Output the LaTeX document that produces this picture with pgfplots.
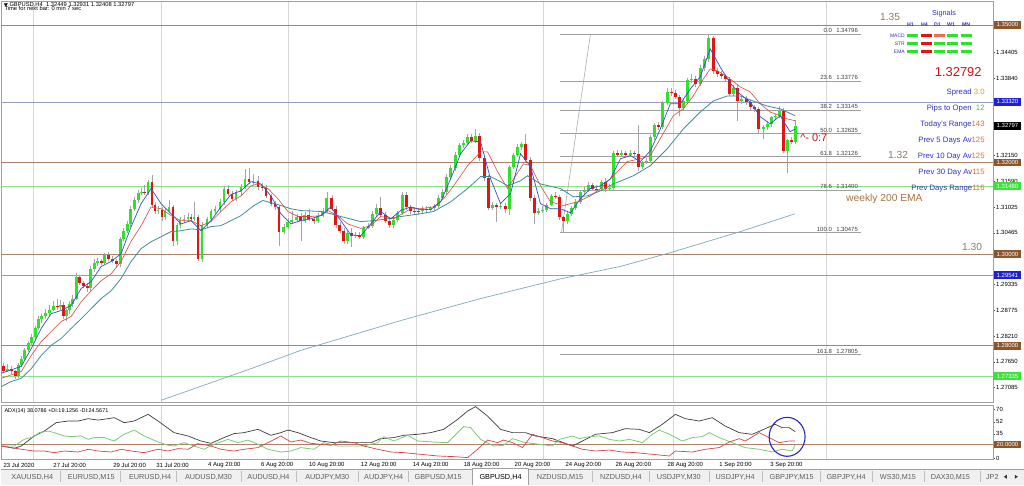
\documentclass[border=0pt]{standalone}
\usepackage{fontspec}
\setmainfont{Liberation Sans}
\usepackage{pgfplots}
\usepackage{pgfplotstable}
\pgfplotsset{compat=1.18}
\newcommand\fs[1]{\fontsize{#1}{#1}\selectfont}
\definecolor{bull}{RGB}{45,225,45}
\definecolor{bear}{RGB}{228,20,20}
\definecolor{wickc}{RGB}{165,165,165}
\definecolor{emablue}{RGB}{50,80,200}
\definecolor{emared}{RGB}{215,75,65}
\definecolor{emateal}{RGB}{60,140,160}
\definecolor{wemac}{RGB}{125,170,190}
\definecolor{roundc}{RGB}{170,130,105}
\definecolor{roundbox}{RGB}{140,85,45}
\definecolor{levelc}{RGB}{150,155,190}
\definecolor{greenl}{RGB}{140,225,140}
\definecolor{fibc}{RGB}{160,160,160}
\definecolor{gridc}{RGB}{215,215,215}
\definecolor{lblue}{RGB}{50,50,190}
\definecolor{onum}{RGB}{235,105,50}
\definecolor{spreadc}{RGB}{230,160,40}
\definecolor{gnum}{RGB}{60,200,60}
\definecolor{roundtxt}{RGB}{145,122,92}
\definecolor{wematxt}{RGB}{165,115,65}
\definecolor{boxblue}{RGB}{30,30,220}
\definecolor{boxgreen}{RGB}{60,225,60}
\definecolor{adxk}{RGB}{60,60,60}
\definecolor{adxg}{RGB}{120,205,120}
\definecolor{adxr}{RGB}{210,70,70}
\definecolor{sigsalmon}{RGB}{240,110,80}
\definecolor{tabbg}{RGB}{240,240,240}
\definecolor{tabtxt}{RGB}{95,95,95}
\definecolor{framec}{RGB}{160,160,160}
\definecolor{ellc}{RGB}{40,40,200}

\pgfplotstableread{
x o h l c
2 1.2755 1.2762 1.2740 1.2746
6 1.2746 1.2760 1.2742 1.2750
10 1.2750 1.2756 1.2738 1.2744
14 1.2744 1.2748 1.2728 1.2733
17 1.2733 1.2762 1.2730 1.2757
20 1.2757 1.2778 1.2754 1.2772
23 1.2772 1.2795 1.2768 1.2790
27 1.2790 1.2810 1.2786 1.2805
30 1.2805 1.2826 1.2800 1.2820
34 1.2820 1.2843 1.2815 1.2838
37 1.2838 1.2866 1.2835 1.2859
40 1.2859 1.2870 1.2850 1.2864
44 1.2864 1.2880 1.2858 1.2872
48 1.2872 1.2890 1.2866 1.2879
52 1.2879 1.2897 1.2875 1.2886
56 1.2886 1.2902 1.2878 1.2884
59 1.2884 1.2900 1.2878 1.2890
62 1.2890 1.2895 1.2858 1.2866
65 1.2866 1.2880 1.2855 1.2877
68 1.2877 1.2898 1.2870 1.2892
71 1.2892 1.2910 1.2885 1.2903
75 1.2903 1.2958 1.2900 1.2951
78 1.2951 1.2955 1.2932 1.2938
82 1.2938 1.2942 1.2925 1.2931
86 1.2931 1.2936 1.2918 1.2925
89 1.2925 1.2975 1.2920 1.2968
93 1.2968 1.2990 1.2962 1.2981
96 1.2981 1.2992 1.2975 1.2984
100 1.2984 1.2990 1.2976 1.2981
103 1.2981 1.3002 1.2978 1.2997
107 1.2997 1.3005 1.2985 1.2990
111 1.2990 1.2996 1.2980 1.2986
115 1.2986 1.2990 1.2970 1.2979
119 1.2979 1.3038 1.2972 1.3034
122 1.3034 1.3056 1.3028 1.3051
126 1.3051 1.3072 1.3046 1.3066
129 1.3066 1.3104 1.3060 1.3099
133 1.3099 1.3125 1.3094 1.3119
137 1.3119 1.3140 1.3112 1.3134
140 1.3134 1.3145 1.3128 1.3136
143 1.3136 1.3150 1.3130 1.3134
147 1.3134 1.3162 1.3128 1.3158
151 1.3158 1.3172 1.3100 1.3108
154 1.3108 1.3114 1.3088 1.3095
157 1.3095 1.3105 1.3088 1.3097
161 1.3097 1.3102 1.3072 1.3080
164 1.3080 1.3100 1.3075 1.3095
168 1.3095 1.3117 1.3090 1.3103
172 1.3103 1.3108 1.3018 1.3029
176 1.3029 1.3068 1.3020 1.3064
179 1.3064 1.3080 1.3058 1.3075
183 1.3075 1.3085 1.3068 1.3077
187 1.3077 1.3090 1.3070 1.3082
190 1.3082 1.3088 1.3070 1.3077
193 1.3077 1.3114 1.3072 1.3082
197 1.3082 1.3086 1.2986 1.2990
201 1.2990 1.3070 1.2983 1.3064
206 1.3064 1.3082 1.3058 1.3077
210 1.3077 1.3098 1.3070 1.3093
214 1.3093 1.3106 1.3088 1.3099
219 1.3099 1.3120 1.3092 1.3114
223 1.3114 1.3148 1.3108 1.3143
227 1.3143 1.3150 1.3126 1.3132
231 1.3132 1.3138 1.3115 1.3121
235 1.3121 1.3140 1.3115 1.3136
240 1.3136 1.3152 1.3130 1.3147
244 1.3147 1.3185 1.3142 1.3164
248 1.3164 1.3188 1.3152 1.3158
252 1.3158 1.3175 1.3150 1.3160
257 1.3160 1.3170 1.3140 1.3147
261 1.3147 1.3155 1.3138 1.3145
265 1.3145 1.3150 1.3122 1.3127
270 1.3127 1.3132 1.3105 1.3110
274 1.3110 1.3115 1.3096 1.3103
278 1.3103 1.3108 1.3017 1.3049
283 1.3049 1.3065 1.3044 1.3060
287 1.3060 1.3078 1.3055 1.3071
291 1.3071 1.3093 1.3066 1.3075
296 1.3075 1.3088 1.3070 1.3082
300 1.3082 1.3090 1.3028 1.3073
304 1.3073 1.3092 1.3068 1.3086
308 1.3086 1.3098 1.3072 1.3077
313 1.3077 1.3082 1.3066 1.3073
317 1.3073 1.3090 1.3068 1.3084
322 1.3084 1.3100 1.3080 1.3095
326 1.3095 1.3136 1.3090 1.3123
331 1.3123 1.3130 1.3093 1.3099
335 1.3099 1.3104 1.3058 1.3064
339 1.3064 1.3070 1.3045 1.3051
343 1.3051 1.3056 1.3023 1.3029
347 1.3029 1.3052 1.3022 1.3047
351 1.3047 1.3058 1.3015 1.3040
355 1.3040 1.3048 1.3036 1.3042
359 1.3042 1.3048 1.3032 1.3038
363 1.3038 1.3062 1.3032 1.3058
368 1.3058 1.3068 1.3054 1.3062
372 1.3062 1.3094 1.3058 1.3088
376 1.3088 1.3110 1.3084 1.3101
380 1.3101 1.3125 1.3080 1.3086
385 1.3086 1.3092 1.3068 1.3073
389 1.3073 1.3078 1.3058 1.3064
393 1.3064 1.3080 1.3058 1.3075
397 1.3075 1.3095 1.3070 1.3090
402 1.3090 1.3136 1.3085 1.3130
406 1.3130 1.3135 1.3096 1.3103
410 1.3103 1.3108 1.3088 1.3095
414 1.3095 1.3102 1.3086 1.3094
418 1.3094 1.3100 1.3085 1.3093
422 1.3093 1.3104 1.3088 1.3099
426 1.3099 1.3106 1.3090 1.3097
430 1.3097 1.3106 1.3092 1.3100
434 1.3100 1.3110 1.3094 1.3104
438 1.3104 1.3128 1.3100 1.3123
442 1.3123 1.3142 1.3118 1.3136
446 1.3136 1.3174 1.3130 1.3169
450 1.3169 1.3194 1.3164 1.3188
455 1.3188 1.3222 1.3182 1.3217
459 1.3217 1.3243 1.3212 1.3238
463 1.3238 1.3250 1.3232 1.3243
467 1.3243 1.3262 1.3238 1.3256
471 1.3256 1.3262 1.3242 1.3247
475 1.3247 1.3273 1.3242 1.3258
479 1.3258 1.3264 1.3204 1.3210
484 1.3210 1.3215 1.3160 1.3167
488 1.3167 1.3172 1.3096 1.3101
492 1.3101 1.3114 1.3096 1.3108
496 1.3108 1.3112 1.3071 1.3103
500 1.3103 1.3112 1.3098 1.3106
505 1.3106 1.3112 1.3090 1.3099
509 1.3099 1.3195 1.3085 1.3190
513 1.3190 1.3220 1.3185 1.3217
517 1.3217 1.3240 1.3212 1.3234
521 1.3234 1.3245 1.3228 1.3241
525 1.3241 1.3262 1.3200 1.3206
530 1.3206 1.3212 1.3115 1.3123
534 1.3123 1.3128 1.3065 1.3090
538 1.3090 1.3100 1.3086 1.3095
542 1.3095 1.3104 1.3090 1.3097
546 1.3097 1.3112 1.3092 1.3108
551 1.3108 1.3132 1.3104 1.3127
555 1.3127 1.3136 1.3120 1.3125
559 1.3125 1.3130 1.3074 1.3080
563 1.3080 1.3084 1.30475 1.3073
567 1.3073 1.3094 1.3066 1.3088
571 1.3088 1.3106 1.3084 1.3101
575 1.3101 1.3120 1.3096 1.3114
580 1.3114 1.3140 1.3110 1.3136
584 1.3136 1.3148 1.3130 1.3140
588 1.3140 1.3158 1.3136 1.3151
592 1.3151 1.3156 1.3138 1.3143
596 1.3143 1.3150 1.3136 1.3142
601 1.3142 1.3162 1.3138 1.3158
605 1.3158 1.3165 1.3136 1.3143
609 1.3143 1.3152 1.3138 1.3145
613 1.3145 1.3225 1.3140 1.3221
617 1.3221 1.3228 1.3212 1.3217
621 1.3217 1.3228 1.3212 1.3221
625 1.3221 1.3226 1.3210 1.3217
630 1.3217 1.3228 1.3212 1.3221
634 1.3221 1.3226 1.3214 1.3219
638 1.3219 1.3282 1.3182 1.3191
642 1.3191 1.3204 1.3186 1.3202
646 1.3202 1.3210 1.3196 1.3204
650 1.3204 1.3260 1.3198 1.3256
654 1.3256 1.3285 1.3250 1.3282
658 1.3282 1.3288 1.3270 1.3278
662 1.3278 1.3335 1.3272 1.3330
667 1.3330 1.3362 1.3325 1.3354
671 1.3354 1.3362 1.3344 1.3352
675 1.3352 1.3358 1.3338 1.3343
679 1.3343 1.3348 1.3302 1.3319
683 1.3319 1.3338 1.3312 1.3334
687 1.3334 1.3385 1.3328 1.3380
691 1.3380 1.3392 1.3374 1.3382
695 1.3382 1.3388 1.3365 1.3371
700 1.3371 1.3412 1.3366 1.3406
704 1.3406 1.3432 1.3400 1.3426
708 1.3426 1.34796 1.3420 1.3472
713 1.3472 1.3476 1.3392 1.3400
717 1.3400 1.3405 1.3386 1.3393
721 1.3393 1.3400 1.3382 1.3389
725 1.3389 1.3394 1.3376 1.3382
729 1.3382 1.3386 1.3344 1.3350
733 1.3350 1.3368 1.3345 1.3363
737 1.3363 1.3368 1.3290 1.3334
741 1.3334 1.3345 1.3328 1.3338
746 1.3338 1.3344 1.3326 1.3332
750 1.3332 1.3336 1.3315 1.3321
754 1.3321 1.3325 1.3310 1.3317
758 1.3317 1.3322 1.3264 1.3273
763 1.3273 1.3282 1.3252 1.3278
767 1.3278 1.3290 1.3270 1.3284
771 1.3284 1.3302 1.3278 1.3299
775 1.3299 1.3305 1.3292 1.3302
779 1.3302 1.3323 1.3296 1.3313
783 1.3313 1.3318 1.3220 1.3225
787 1.3225 1.3252 1.3176 1.3249
791 1.3249 1.3256 1.3240 1.3245
795 1.32449 1.32931 1.32408 1.32797
}\candles

\tikzset{pbox/.style={anchor=west, inner sep=0pt, minimum width=27bp, minimum height=7.6bp, font=\fs{6}, text=white},
fiblbl/.style={inner sep=0pt, font=\fs{6}, text=black!75, yshift=1.3bp}}
\pgfplotsset{candle/.style={only marks, mark=*, mark size=0pt, mark options={draw opacity=0, fill opacity=0}, forget plot}}

\begin{document}
\begin{tikzpicture}[x=1bp,y=1bp]
\fill[white] (0,0) rectangle (1024,486);
\foreach \gx in {32,160,287,416,543,673,826}{
  \draw[gridc, line width=0.5bp] (\gx,83) -- (\gx,485);
  \draw[gridc, line width=0.5bp] (\gx,26) -- (\gx,80);
}
% ---------------- main price panel
\begin{axis}[name=main, at={(0bp,83bp)}, anchor=south west, scale only axis,
  width=993bp, height=402bp,
  xmin=0, xmax=993, ymin=1.267647, ymax=1.355229, clip=false,
  axis line style={framec, line width=0.6bp},
  xtick=\empty,
  ytick={1.34405,1.33840,1.32150,1.31590,1.31025,1.30465,1.29335,1.28775,1.28210,1.27650,1.27085},
  yticklabels={1.34405,1.33840,1.32150,1.31590,1.31025,1.30465,1.29335,1.28775,1.28210,1.27650,1.27085},
  ytick pos=right, yticklabel pos=right,
  tick align=outside, major tick length=2bp,
  tick style={black!70, line width=0.4bp},
  yticklabel style={font=\fs{6}, inner xsep=1.2bp}]
% horizontal levels
\addplot[roundc, line width=0.8bp] coordinates {(0,1.35) (993,1.35)};
\addplot[roundc, line width=0.8bp] coordinates {(0,1.32) (993,1.32)};
\addplot[roundc, line width=0.8bp] coordinates {(0,1.30) (993,1.30)};
\addplot[roundc, line width=0.8bp] coordinates {(0,1.28) (993,1.28)};
\addplot[levelc, line width=0.7bp] coordinates {(0,1.33320) (993,1.33320)};
\addplot[levelc, line width=0.7bp] coordinates {(0,1.29541) (993,1.29541)};
\addplot[greenl, line width=0.7bp] coordinates {(0,1.31480) (993,1.31480)};
\addplot[greenl, line width=0.7bp] coordinates {(0,1.27335) (993,1.27335)};
% fibonacci
\addplot[fibc, line width=0.5bp] coordinates {(561,1.30475) (590,1.34796)};
\addplot[fibc, line width=0.5bp] coordinates {(560,1.34796) (861,1.34796)};
\addplot[fibc, line width=0.5bp] coordinates {(560,1.33776) (861,1.33776)};
\addplot[fibc, line width=0.5bp] coordinates {(560,1.33145) (861,1.33145)};
\addplot[fibc, line width=0.5bp] coordinates {(560,1.32635) (861,1.32635)};
\addplot[fibc, line width=0.5bp] coordinates {(560,1.32126) (861,1.32126)};
\addplot[fibc, line width=0.5bp] coordinates {(560,1.31400) (861,1.31400)};
\addplot[fibc, line width=0.5bp] coordinates {(560,1.30475) (861,1.30475)};
\addplot[fibc, line width=0.5bp] coordinates {(560,1.27805) (861,1.27805)};
\foreach \lv/\pr in {0.0/1.34796,23.6/1.33776,38.2/1.33145,50.0/1.32635,61.8/1.32126,78.6/1.31400,100.0/1.30475,161.8/1.27805}{
  \edef\temp{\noexpand\node[fiblbl, anchor=base east] at (axis cs:832,\pr) {\lv};
    \noexpand\node[fiblbl, anchor=base west] at (axis cs:836,\pr) {\pr};}
  \temp
}
% weekly 200 EMA
\addplot[wemac, line width=0.7bp] coordinates {(160,1.2681)(250,1.2750)(300,1.2790)(400,1.2855)(480,1.2903)(560,1.2946)(620,1.2973)(673,1.3005)(740,1.3049)(795,1.3088)};
% candles: wicks
\addplot[candle,
  error bars/.cd, y dir=plus, y explicit, error mark=none,
  error bar style={line width=0.6bp, draw=wickc}]
  table[x=x, y=l, y error plus expr={\thisrow{h}-\thisrow{l}}] {\candles};
% bull bodies
\addplot[candle,
  error bars/.cd, y dir=plus, y explicit, error mark=none,
  error bar style={line width=2.8bp, draw=bull}]
  table[x=x, y expr={\thisrow{c}>=\thisrow{o} ? \thisrow{o} : nan},
        y error plus expr={max(\thisrow{c}-\thisrow{o},0.00006)}] {\candles};
% bear bodies
\addplot[candle,
  error bars/.cd, y dir=plus, y explicit, error mark=none,
  error bar style={line width=2.8bp, draw=bear}]
  table[x=x, y expr={\thisrow{c}<\thisrow{o} ? \thisrow{c} : nan},
        y error plus expr={\thisrow{o}-\thisrow{c}}] {\candles};
% EMAs
\addplot[emateal, line width=0.8bp] coordinates {(0,1.2711)(10,1.2722)(20,1.2729)(30,1.2750)(40,1.2779)(50,1.2801)(60,1.2816)(70,1.2838)(80,1.2859)(90,1.2881)(100,1.2903)(110,1.2920)(120,1.2947)(130,1.2984)(140,1.3012)(150,1.3027)(160,1.3038)(170,1.3049)(180,1.3051)(190,1.3055)(200,1.3053)(210,1.3060)(220,1.3062)(240,1.3084)(253,1.3106)(262,1.3117)(267,1.3114)(280,1.3106)(290,1.3099)(300,1.3095)(320,1.3093)(330,1.3088)(340,1.3082)(360,1.3071)(373,1.3073)(387,1.3077)(400,1.3082)(420,1.3088)(433,1.3093)(450,1.3114)(467,1.3143)(480,1.3169)(490,1.3169)(500,1.3158)(507,1.3149)(520,1.3160)(527,1.3171)(540,1.3153)(560,1.3143)(573,1.3125)(587,1.3127)(600,1.3138)(613,1.3153)(633,1.3171)(650,1.3193)(667,1.3230)(683,1.3273)(700,1.3310)(713,1.3334)(727,1.3345)(740,1.3345)(753,1.3334)(767,1.3323)(780,1.3317)(795,1.3302)};
\addplot[emared, line width=0.6bp] coordinates {(0,1.2729)(20,1.2744)(30,1.2779)(40,1.2809)(50,1.2831)(60,1.2853)(70,1.2864)(80,1.2896)(90,1.2920)(100,1.2942)(110,1.2957)(120,1.2984)(130,1.3028)(140,1.3062)(150,1.3103)(160,1.3099)(170,1.3084)(180,1.3073)(190,1.3073)(200,1.3062)(210,1.3071)(220,1.3093)(230,1.3114)(240,1.3127)(250,1.3149)(257,1.3153)(267,1.3143)(277,1.3121)(287,1.3093)(297,1.3082)(310,1.3082)(320,1.3084)(327,1.3095)(337,1.3084)(347,1.3066)(360,1.3056)(370,1.3062)(380,1.3082)(393,1.3077)(410,1.3099)(420,1.3099)(433,1.3103)(443,1.3121)(453,1.3149)(467,1.3193)(480,1.3223)(487,1.3223)(497,1.3180)(507,1.3143)(513,1.3164)(523,1.3197)(530,1.3193)(540,1.3149)(550,1.3114)(563,1.3106)(577,1.3114)(590,1.3127)(600,1.3143)(613,1.3171)(627,1.3202)(640,1.3208)(650,1.3215)(660,1.3252)(673,1.3302)(683,1.3317)(693,1.3345)(703,1.3382)(710,1.3404)(717,1.3400)(727,1.3387)(740,1.3365)(750,1.3354)(760,1.3328)(770,1.3310)(780,1.3302)(787,1.3295)(795,1.3291)};
\addplot[emablue, line width=0.7bp] coordinates {(0,1.2740)(20,1.2755)(30,1.2794)(40,1.2838)(50,1.2870)(60,1.2877)(70,1.2888)(80,1.2925)(90,1.2940)(100,1.2973)(110,1.2984)(120,1.3001)(130,1.3060)(140,1.3110)(150,1.3143)(160,1.3110)(170,1.3088)(180,1.3066)(190,1.3073)(200,1.3051)(210,1.3073)(220,1.3103)(230,1.3130)(240,1.3138)(250,1.3158)(260,1.3153)(270,1.3127)(280,1.3088)(290,1.3066)(300,1.3073)(310,1.3077)(320,1.3084)(330,1.3103)(340,1.3073)(350,1.3042)(360,1.3040)(370,1.3066)(380,1.3093)(390,1.3077)(400,1.3095)(410,1.3103)(420,1.3097)(430,1.3097)(440,1.3114)(450,1.3164)(460,1.3219)(470,1.3247)(480,1.3245)(490,1.3164)(500,1.3110)(510,1.3132)(520,1.3219)(530,1.3191)(540,1.3110)(550,1.3099)(560,1.3099)(570,1.3090)(580,1.3121)(590,1.3143)(600,1.3149)(610,1.3164)(620,1.3208)(630,1.3215)(640,1.3202)(650,1.3225)(660,1.3273)(670,1.3328)(680,1.3328)(690,1.3360)(700,1.3387)(710,1.3448)(720,1.3408)(730,1.3373)(740,1.3349)(750,1.3332)(760,1.3300)(770,1.3284)(780,1.3302)(790,1.3267)(795,1.3273)};
% price boxes
\node[pbox, fill=roundbox] at (axis cs:994,1.35) {1.35000};
\node[pbox, fill=boxblue] at (axis cs:994,1.33320) {1.33320};
\node[pbox, fill=black] at (axis cs:994,1.32797) {1.32797};
\node[pbox, fill=roundbox] at (axis cs:994,1.32) {1.32000};
\node[pbox, fill=boxgreen] at (axis cs:994,1.31480) {1.31480};
\node[pbox, fill=roundbox] at (axis cs:994,1.30) {1.30000};
\node[pbox, fill=boxblue] at (axis cs:994,1.29541) {1.29541};
\node[pbox, fill=roundbox] at (axis cs:994,1.28) {1.28000};
\node[pbox, fill=boxgreen] at (axis cs:994,1.27335) {1.27335};
\end{axis}
% ---------------- ADX panel
\begin{axis}[name=adx, at={(0bp,26bp)}, anchor=south west, scale only axis,
  width=993bp, height=54bp,
  xmin=0, xmax=993, ymin=-1.43, ymax=75.71, clip=false,
  axis line style={framec, line width=0.6bp},
  xtick={2,52,112,155,207,260,308,360,412,463,514,565,615,667,719,770},
  xticklabels={23 Jul 2020,27 Jul 20:00,29 Jul 20:00,31 Jul 20:00,4 Aug 20:00,6 Aug 20:00,10 Aug 20:00,12 Aug 20:00,14 Aug 20:00,18 Aug 20:00,20 Aug 20:00,24 Aug 20:00,26 Aug 20:00,28 Aug 20:00,1 Sep 20:00,3 Sep 20:00},
  xtick pos=bottom, x tick style={draw=none},
  xticklabel style={font=\fs{6}, anchor=north west, inner xsep=0pt, inner ysep=1.2bp},
  ytick={0,35,52,70}, yticklabels={0,35,52,70},
  ytick pos=right, yticklabel pos=right,
  tick align=outside, major tick length=2bp,
  y tick style={black!70, line width=0.4bp},
  yticklabel style={font=\fs{6}, inner xsep=1.2bp}]
\addplot[roundc, line width=0.8bp] coordinates {(0,20) (993,20)};
\addplot[adxk, line width=0.7bp] coordinates {(0,17.6)(13,14.3)(20,17.6)(33,31.9)(43,39)(55,51)(67,53.3)(77,53.3)(87,56.7)(97,54.7)(107,56.7)(113,58.1)(123,51)(133,53.3)(147,62.9)(157,53.3)(173,36.7)(187,31.9)(200,24.7)(210,21.4)(223,29.6)(233,35.3)(243,36.7)(257,41.4)(270,32.9)(280,36.7)(287,40.4)(297,36.7)(310,29.6)(320,24.7)(333,22.4)(347,22.4)(360,22.4)(370,22.4)(380,28.1)(393,29.6)(403,32.9)(417,34.3)(430,36.7)(443,41.4)(457,55.7)(467,67.6)(475,73.9)(487,60.4)(500,41.4)(512,36.7)(525,36.7)(535,31.9)(552,28.1)(572,17.6)(582,24.7)(595,34.3)(612,36.7)(625,42.4)(639,41.4)(649,36.7)(662,48.6)(675,62.9)(685,56.7)(699,53.3)(712,58.1)(725,46.1)(739,36.7)(752,34.3)(762,40.4)(775,48.6)(782,43.9)(789,43.9)(795,38.1)};
\addplot[adxg, line width=0.8bp] coordinates {(0,17.6)(13,17.6)(23,27.1)(33,31)(38,36.7)(47,39)(53,36.7)(63,31.9)(70,31)(80,31.9)(87,27.1)(93,29.6)(103,29.6)(113,24.7)(123,34.3)(133,40.4)(143,31.9)(157,23.3)(167,18.6)(173,17.6)(183,22.4)(193,17.6)(203,12.9)(213,20)(227,27.1)(237,22.4)(247,26.1)(257,20)(267,12.9)(280,9)(290,10.4)(300,15.3)(313,12.9)(323,22.4)(337,17.6)(350,17.6)(363,17.6)(377,22.4)(383,31)(393,24.7)(407,32.9)(417,24.7)(433,23.3)(447,22.4)(457,36.7)(463,45.3)(470,43.9)(480,27.1)(493,17.6)(503,18.6)(512,28.1)(525,22.4)(539,20)(552,17.6)(559,27.1)(572,31.9)(579,28.1)(589,31)(599,31.9)(609,27.1)(619,24.7)(629,27.1)(642,22.4)(652,34.3)(659,40.4)(669,34.3)(682,24.7)(692,29.6)(702,31)(709,36.7)(719,29.6)(732,22.4)(745,15.3)(759,12.9)(772,9)(782,12.9)(792,10.4)(795,19.1)};
\addplot[adxr, line width=0.7bp] coordinates {(0,17.6)(10,15.3)(20,12.9)(33,10.4)(43,10.4)(53,8.1)(63,10.4)(77,9)(87,12.9)(97,10.4)(110,9)(120,12.9)(130,10.4)(143,8.1)(157,12.9)(167,10.4)(177,13.9)(187,12.9)(197,21)(210,17.6)(220,12.9)(233,10.4)(243,12.9)(257,15.3)(267,22.4)(280,31.9)(290,23.3)(300,26.1)(310,21.4)(320,20)(330,18.6)(340,24.7)(353,22.4)(363,17.6)(377,12.9)(390,9)(403,8.1)(420,5.7)(437,3.3)(453,2.4)(467,1)(477,12.9)(487,26.1)(497,22.4)(503,26.1)(512,22.4)(522,15.3)(532,34.3)(542,29.6)(552,24.7)(562,22.4)(572,17.6)(582,12.9)(595,10.4)(609,11.8)(622,9)(635,8.1)(652,5.7)(669,3.3)(675,10.4)(692,9)(705,12.9)(719,15.3)(729,23.3)(739,28.1)(745,24.7)(759,36.7)(769,29.6)(779,22.4)(789,24.7)(795,24.6)};
\node[pbox, fill=roundbox] at (axis cs:994,20) {20.0000};
\end{axis}
% ellipse
\draw[ellc, line width=1.1bp] (787,48.5) ellipse [x radius=18, y radius=19.5];
% header
\fill[black] (2.5,482.5) -- (6.5,482.5) -- (4.5,479.5) -- cycle;
\node[anchor=base west, inner sep=0pt, font=\fs{5.8}] at (8,479.5) {GBPUSD,H4\ \ 1.32449 1.32931 1.32408 1.32797};
\node[anchor=base west, inner sep=0pt, font=\fs{5.8}] at (3,475.5) {Time for next bar: 0 min 7 sec};
\node[anchor=base west, inner sep=0pt, font=\fs{5.5}] at (3,73) {ADX(14) 38.0786 +DI:19.1256 -DI:24.5671};
% signals panel
\node[anchor=base west, inner sep=0pt, font=\fs{10.3}, text=roundtxt] at (880,465.4) {1.35};
\node[anchor=base west, inner sep=0pt, font=\fs{7.3}, text=lblue] at (932,470.5) {Signals};
\foreach \hx/\hlab in {907/H1,921/H4,934/D1,947/W1,962/MN}
  \node[anchor=base west, inner sep=0pt, font=\fs{5.3}\bfseries, text=lblue] at (\hx,459.6) {\hlab};
\node[anchor=base east, inner sep=0pt, font=\fs{5}, text=lblue] at (905,448.3) {MACD};
\node[anchor=base east, inner sep=0pt, font=\fs{5}, text=lblue] at (905,440.3) {STR};
\node[anchor=base east, inner sep=0pt, font=\fs{5}, text=lblue] at (905,432.3) {EMA};
\foreach \bx/\cA/\cB/\cC in {907/bull/bull/bull,921/bear/bear/bear,934/sigsalmon/bull/bull,947/bull/bull/bull,961/bull/bull/bull}{
  \fill[\cA] (\bx,448.5) rectangle ++(11,3);
  \fill[\cB] (\bx,440.5) rectangle ++(11,3);
  \fill[\cC] (\bx,432.5) rectangle ++(11,3);
}
\node[anchor=base east, inner sep=0pt, font=\fs{13}, text=bear!90!black] at (982,409.5) {1.32792};
\node[anchor=base east, inner sep=0pt, font=\fs{7.8}] at (985,391.3) {\color{lblue}Spread \color{spreadc}3.0};
\node[anchor=base east, inner sep=0pt, font=\fs{7.8}] at (985,375.3) {\color{lblue}Pips to Open\ \ \color{gnum}12};
\node[anchor=base east, inner sep=0pt, font=\fs{7.8}] at (985,359.3) {\color{lblue}Today's Range\color{onum}143};
\node[anchor=base east, inner sep=0pt, font=\fs{7.8}] at (985,343.3) {\color{lblue}Prev 5 Days Av\color{onum}125};
\node[anchor=base east, inner sep=0pt, font=\fs{7.8}] at (985,327.3) {\color{lblue}Prev 10 Day Av\color{onum}125};
\node[anchor=base east, inner sep=0pt, font=\fs{7.8}] at (985,311.3) {\color{lblue}Prev 30 Day Av\color{onum}115};
\node[anchor=base east, inner sep=0pt, font=\fs{7.8}] at (985,295.3) {\color{lblue}Prev Days Range\color{onum}116};
\node[anchor=base west, inner sep=0pt, font=\fs{10.3}, text=roundtxt] at (888,327.4) {1.32};
\node[anchor=base west, inner sep=0pt, font=\fs{10.3}, text=wematxt] at (846,284.4) {weekly 200 EMA};
\node[anchor=base west, inner sep=0pt, font=\fs{10.3}, text=roundtxt] at (962,235.4) {1.30};
\node[anchor=base west, inner sep=0pt, font=\fs{11}, text=bear!85!black] at (800,344.5) {\^{}-\ 0:7};
% tabs
\fill[tabbg] (0,0) rectangle (1024,16.5);
\draw[framec, line width=0.5bp] (0,16.5) -- (1024,16.5);
\fill[white] (472,0) rectangle (528,17.5);
\draw[framec, line width=0.5bp] (472,0) -- (472,17.5) -- (528,17.5) -- (528,0);
\foreach \sx in {59,119,175,240,295,357,408,592,649,709,762,820,872,924,980}
  \draw[black!25, line width=0.5bp] (\sx,3) -- (\sx,14);
\foreach \tpos/\tname in {31/{XAUUSD,H4},90/{EURUSD,M15},149/{EURUSD,H4},207.5/{AUDUSD,M30},267.5/{AUDUSD,H4},326.5/{AUDJPY,M30},383/{AUDJPY,H4},437.5/{GBPUSD,M15},559.5/{NZDUSD,M15},620.5/{NZDUSD,H4},678.5/{USDJPY,M30},735/{USDJPY,H4},791.5/{GBPJPY,M15},846/{GBPJPY,H4},898/{WS30,M15},950.5/{DAX30,M15},992.5/{JP2}}
  \node[anchor=base, inner sep=0pt, font=\fs{7.3}, text=tabtxt] at (\tpos,5.5) {\tname};
\node[anchor=base, inner sep=0pt, font=\fs{7.3}, text=black] at (500,5.5) {GBPUSD,H4};
\fill[black!80] (1007,6.5) -- (1004,8.5) -- (1007,10.5) -- cycle;
\fill[black!80] (1015,6.5) -- (1018,8.5) -- (1015,10.5) -- cycle;
\end{tikzpicture}
\end{document}
